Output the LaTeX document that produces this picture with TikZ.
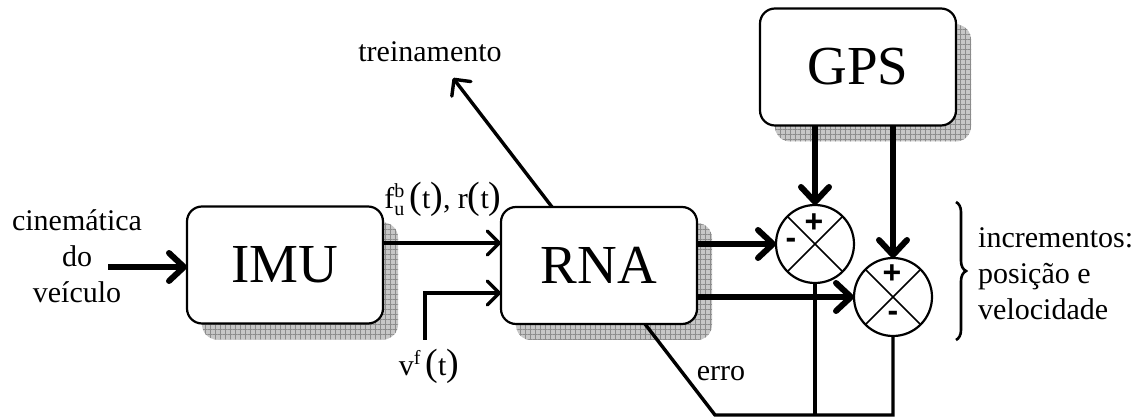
\documentclass[tikz,border=0pt]{standalone}
\usepackage{fontspec}
\setmainfont{Liberation Serif}
\newfontfamily\signfont{Liberation Sans}
\usetikzlibrary{arrows.meta,patterns.meta,decorations.pathreplacing,backgrounds,calc}
\newcommand\bigp[1]{{\fontsize{38}{38}\selectfont#1}}
\newcommand\smallscript[1]{{\fontsize{20}{20}\selectfont#1}}
\begin{document}
\begin{tikzpicture}[x=1pt,y=-1pt,
  box/.style={draw, line width=2.2pt, rounded corners=15pt, minimum width=196pt, minimum height=117pt, fill=white, font=\fontsize{55}{60}\selectfont, inner sep=0pt, outer sep=0pt},
  sumnode/.style={draw, circle, line width=2.2pt, minimum size=78pt, inner sep=0pt, outer sep=0pt, fill=white},
  lbl/.style={font=\fontsize{30}{36}\selectfont, inner sep=0pt},
  sign/.style={font=\signfont\bfseries\fontsize{32}{32}\selectfont, inner sep=0pt},
  bigarrow/.style={line width=6pt, -{Straight Barb[length=15pt,width=28pt,round]}},
  smallarrow/.style={line width=3.4pt, -{Straight Barb[length=12pt,width=24pt,round]}},
  plainline/.style={line width=3.4pt},
  crossline/.style={line width=1.6pt},
  shadowfill/.style={rounded corners=15pt, fill=black!22},
  shadowgrid/.style={rounded corners=15pt, pattern={Lines[distance=5pt,angle=#1,line width=0.7pt]}, pattern color=black!45},
]
\useasboundingbox (0,0) rectangle (1148,419);

% blocks
\node[box] (IMU) at (285,265) {IMU};
\node[box] (RNA) at (599,265.5) {RNA};
\node[box] (GPS) at (858,67) {GPS};

% shadows
\begin{scope}[on background layer]
\foreach \b in {IMU,RNA,GPS} {
  \path[shadowfill] ([xshift=15pt,yshift=-16pt]\b.north west) rectangle ([xshift=15pt,yshift=-16pt]\b.south east);
  \path[shadowgrid=0] ([xshift=15pt,yshift=-16pt]\b.north west) rectangle ([xshift=15pt,yshift=-16pt]\b.south east);
  \path[shadowgrid=90] ([xshift=15pt,yshift=-16pt]\b.north west) rectangle ([xshift=15pt,yshift=-16pt]\b.south east);
}
\end{scope}

% summing junctions
\node[sumnode] (s1) at (815,244) {};
\node[sumnode] (s2) at (893,297) {};
\draw[crossline] (s1.north east) -- (s1.south west) (s1.north west) -- (s1.south east);
\draw[crossline] (s2.north east) -- (s2.south west) (s2.north west) -- (s2.south east);
\node[sign] (s1p) at ($(s1)+(-1,-21)$) {+};
\node[sign] (s1m) at ($(s1)+(-24,-1)$) {-};
\node[sign] (s2p) at ($(s2)+(-1,-23)$) {+};
\node[sign] (s2m) at ($(s2)+(0,19)$) {-};

% input
\node[lbl, align=center] (kin) at (77,256) {cinemática\\do\\veículo};
\coordinate (in) at (108,267);
\draw[bigarrow] (in) -- (IMU.west |- in);

% IMU -> RNA
\coordinate (y1) at (0,243);
\draw[smallarrow] (IMU.east |- y1) -- (RNA.west |- y1);
\node[lbl] (fub) at (443,199) {f\rlap{\raisebox{11pt}{\smallscript{b}}}\raisebox{-7pt}{\smallscript{u}}\,\bigp{(}t\bigp{)}, r\bigp{(}t\bigp{)}};

% v^f(t) -> RNA
\coordinate (vin) at (425,340);
\coordinate (y2) at (0,293);
\draw[smallarrow] (vin) |- (RNA.west |- y2);
\node[lbl] (vf) at (429,366) {v\raisebox{11pt}{\smallscript{f}}\,\bigp{(}t\bigp{)}};

% treinamento
\coordinate (tr0) at (552,0);
\coordinate (trtip) at (453,78);
\draw[smallarrow] (RNA.north -| tr0) -- (trtip);
\node[lbl] (tr) at (430,52) {treinamento};

% RNA -> sums
\draw[bigarrow] (RNA.east |- s1) -- (s1.west);
\draw[bigarrow] (RNA.east |- s2) -- (s2.west);

% GPS -> sums
\draw[bigarrow] (GPS.south -| s1) -- (s1.north);
\draw[bigarrow] (GPS.south -| s2) -- (s2.north);

% erro feedback
\coordinate (e0) at (645,0);
\coordinate (eb) at (715,415);
\draw[plainline] (RNA.south -| e0) -- (eb) -| (s2.south);
\draw[plainline] (s1.south) -- (s1 |- eb);
\node[lbl] (erro) at (721,374) {erro};

% output brace
\coordinate (br1) at (956,202);
\coordinate (br2) at (956,340);
\draw[decorate, decoration={brace, amplitude=10pt}, line width=2.6pt] (br1) -- (br2);
\node[lbl, align=left, anchor=west] (inc) at (978,274) {incrementos:\\posição e\\velocidade};
\end{tikzpicture}
\end{document}
